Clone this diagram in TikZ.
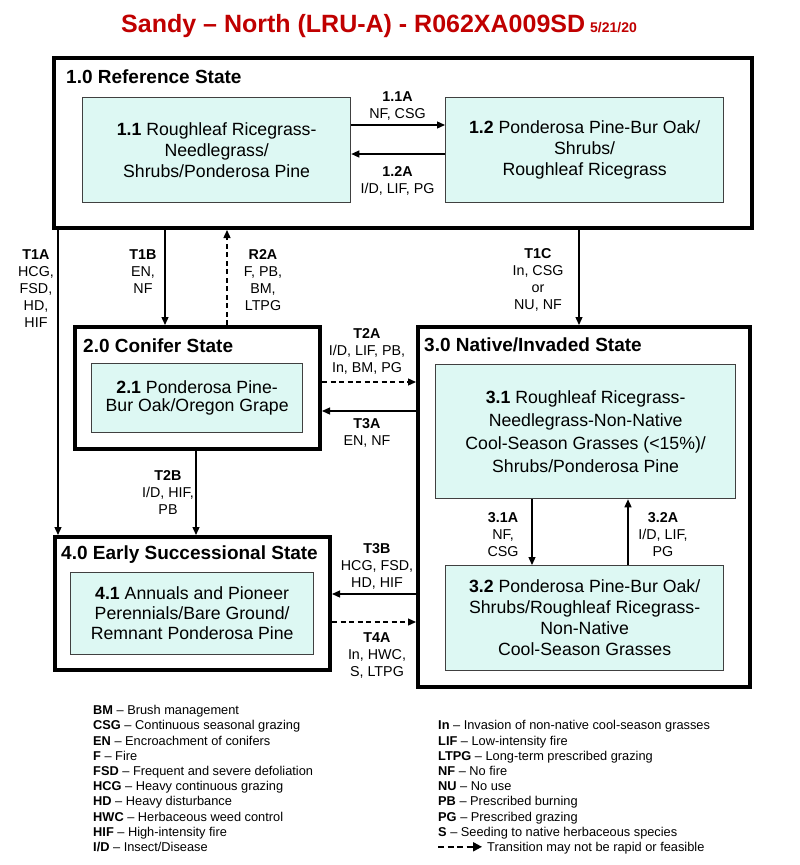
\documentclass[tikz,border=0pt]{standalone}
\usepackage{fontspec}
\setmainfont{Liberation Sans}
\usetikzlibrary{arrows.meta}
\definecolor{titlered}{RGB}{192,0,0}
\definecolor{boxfill}{RGB}{221,248,243}
\begin{document}
\begin{tikzpicture}[x=1pt,y=-1pt,
 statebox/.style={draw, line width=4pt, inner sep=0pt, anchor=north west},
 phasebox/.style={draw=black!75, line width=1.3pt, fill=boxfill, inner sep=0pt, anchor=north west, align=center, font=\fontsize{17.7}{21}\selectfont},
 statetitle/.style={anchor=west, inner sep=0pt, font=\fontsize{19}{22}\selectfont\bfseries},
 lbl/.style={align=center, inner sep=0pt, font=\fontsize{14.3}{17}\selectfont},
 arr/.style={-{Triangle[length=8pt,width=7pt]}, line width=1.3pt},
 darr/.style={arr, dash pattern=on 5pt off 3.5pt},
 legend/.style={anchor=base west, inner sep=0pt, font=\fontsize{12.8}{15}\selectfont},
 legarrow/.style={-{Triangle[length=9pt,width=9pt]}, line width=2pt, dash pattern=on 6pt off 3.5pt},
]
\useasboundingbox[fill=white] (0,0) rectangle (800,865);

% title
\node[anchor=base west, inner sep=0pt, text=titlered] (title) at (121,32)
 {\fontsize{25}{30}\selectfont\bfseries Sandy – North (LRU-A) - R062XA009SD\hspace{5pt}\fontsize{14}{16}\selectfont 5/21/20};

% state boxes
\node[statebox, minimum width=698pt, minimum height=170pt] (S1) at (52,56) {};
\node[statebox, minimum width=245pt, minimum height=122pt] (S2) at (73,325) {};
\node[statebox, minimum width=332pt, minimum height=360pt] (S3) at (416,325) {};
\node[statebox, minimum width=275pt, minimum height=133pt] (S4) at (53,535) {};

\node[statetitle] (t1) at (66,77) {1.0 Reference State};
\node[statetitle] (t2) at (83,346) {2.0 Conifer State};
\node[statetitle] (t3) at (424,345) {3.0 Native/Invaded State};
\node[statetitle] (t4) at (61,555) {4.0 Early Successional State};

% phase boxes
\node[phasebox, minimum width=268pt, minimum height=105pt] (P11) at (82,97)
 {\textbf{1.1} Roughleaf Ricegrass-\\Needlegrass/\\Shrubs/Ponderosa Pine};
\node[phasebox, minimum width=278pt, minimum height=105pt] (P12) at (445,97)
 {\textbf{1.2} Ponderosa Pine-Bur Oak/\\Shrubs/\\Roughleaf Ricegrass};
\node[phasebox, minimum width=211pt, minimum height=69pt, font=\fontsize{17.7}{18}\selectfont] (P21) at (91,363)
 {\textbf{2.1} Ponderosa Pine-\\Bur Oak/Oregon Grape};
\node[phasebox, minimum width=300pt, minimum height=134pt, font=\fontsize{17.7}{23}\selectfont] (P31) at (435,364)
 {\textbf{3.1} Roughleaf Ricegrass-\\Needlegrass-Non-Native\\Cool-Season Grasses (<15\%)/\\Shrubs/Ponderosa Pine};
\node[phasebox, minimum width=278pt, minimum height=105pt] (P32) at (445,565)
 {\textbf{3.2} Ponderosa Pine-Bur Oak/\\Shrubs/Roughleaf Ricegrass-\\Non-Native\\Cool-Season Grasses};
\node[phasebox, minimum width=243pt, minimum height=82pt, font=\fontsize{17.7}{20}\selectfont] (P41) at (70,572)
 {\textbf{4.1} Annuals and Pioneer\\Perennials/Bare Ground/\\Remnant Ponderosa Pine};

% connectors
\draw[arr] (P11.east |- 0,125) -- (P12.west |- 0,125);
\draw[arr] (P12.west |- 0,154) -- (P11.east |- 0,154);
\draw[arr] (S1.south -| 58,0) -- (S4.north -| 58,0);
\draw[arr] (S1.south -| 165,0) -- (S2.north -| 165,0);
\draw[darr] (S2.north -| 227,0) -- (S1.south -| 227,0);
\draw[arr] (S1.south -| 579,0) -- (S3.north -| 579,0);
\draw[darr] (S2.east |- 0,382) -- (S3.west |- 0,382);
\draw[arr] (S3.west |- 0,411) -- (S2.east |- 0,411);
\draw[arr] (S2.south -| 196,0) -- (S4.north -| 196,0);
\draw[arr] (S3.west |- 0,594) -- (S4.east |- 0,594);
\draw[darr] (S4.east |- 0,622) -- (S3.west |- 0,622);
\draw[arr] (P31.south -| 532,0) -- (P32.north -| 532,0);
\draw[arr] (P32.north -| 628,0) -- (P31.south -| 628,0);

% labels
\node[lbl] (l11) at (397.5,106) {\textbf{1.1A}\\NF, CSG};
\node[lbl] (l12) at (397.5,181) {\textbf{1.2A}\\I/D, LIF, PG};
\node[lbl] (lT1A) at (36,288.5) {\textbf{T1A}\\HCG,\\FSD,\\HD,\\HIF};
\node[lbl] (lT1B) at (143,271.5) {\textbf{T1B}\\EN,\\NF};
\node[lbl] (lR2A) at (263,280) {\textbf{R2A}\\F, PB,\\BM,\\LTPG};
\node[lbl] (lT1C) at (538,280) {\textbf{T1C}\\In, CSG\\or\\NU, NF};
\node[lbl] (lT2A) at (367,351) {\textbf{T2A}\\I/D, LIF, PB,\\In, BM, PG};
\node[lbl] (lT3A) at (367,433) {\textbf{T3A}\\EN, NF};
\node[lbl] (lT2B) at (168,492.5) {\textbf{T2B}\\I/D, HIF,\\PB};
\node[lbl] (lT3B) at (377,566) {\textbf{T3B}\\HCG, FSD,\\HD, HIF};
\node[lbl] (lT4A) at (377,655) {\textbf{T4A}\\In, HWC,\\S, LTPG};
\node[lbl] (l31) at (503,534.5) {\textbf{3.1A}\\NF,\\CSG};
\node[lbl] (l32) at (663,534.5) {\textbf{3.2A}\\I/D, LIF,\\PG};

% legend left
\node[legend] (g1) at (93,714.6) {\textbf{BM} – Brush management};
\node[legend] (g2) at (93,729.8) {\textbf{CSG} – Continuous seasonal grazing};
\node[legend] (g3) at (93,745) {\textbf{EN} – Encroachment of conifers};
\node[legend] (g4) at (93,760.2) {\textbf{F} – Fire};
\node[legend] (g5) at (93,775.4) {\textbf{FSD} – Frequent and severe defoliation};
\node[legend] (g6) at (93,790.6) {\textbf{HCG} – Heavy continuous grazing};
\node[legend] (g7) at (93,805.8) {\textbf{HD} – Heavy disturbance};
\node[legend] (g8) at (93,821) {\textbf{HWC} – Herbaceous weed control};
\node[legend] (g9) at (93,836.2) {\textbf{HIF} – High-intensity fire};
\node[legend] (g10) at (93,851.4) {\textbf{I/D} – Insect/Disease};
% legend right
\node[legend] (h1) at (438,729.8) {\textbf{In} – Invasion of non-native cool-season grasses};
\node[legend] (h2) at (438,745) {\textbf{LIF} – Low-intensity fire};
\node[legend] (h3) at (438,760.2) {\textbf{LTPG} – Long-term prescribed grazing};
\node[legend] (h4) at (438,775.4) {\textbf{NF} – No fire};
\node[legend] (h5) at (438,790.6) {\textbf{NU} – No use};
\node[legend] (h6) at (438,805.8) {\textbf{PB} – Prescribed burning};
\node[legend] (h7) at (438,821) {\textbf{PG} – Prescribed grazing};
\node[legend] (h8) at (438,836.2) {\textbf{S} – Seeding to native herbaceous species};
\coordinate (la1) at (438,846.8);
\coordinate (la2) at (482,846.8);
\draw[legarrow] (la1) -- (la2);
\node[legend] (h9) at (487,851.4) {Transition may not be rapid or feasible};
\end{tikzpicture}
\end{document}
